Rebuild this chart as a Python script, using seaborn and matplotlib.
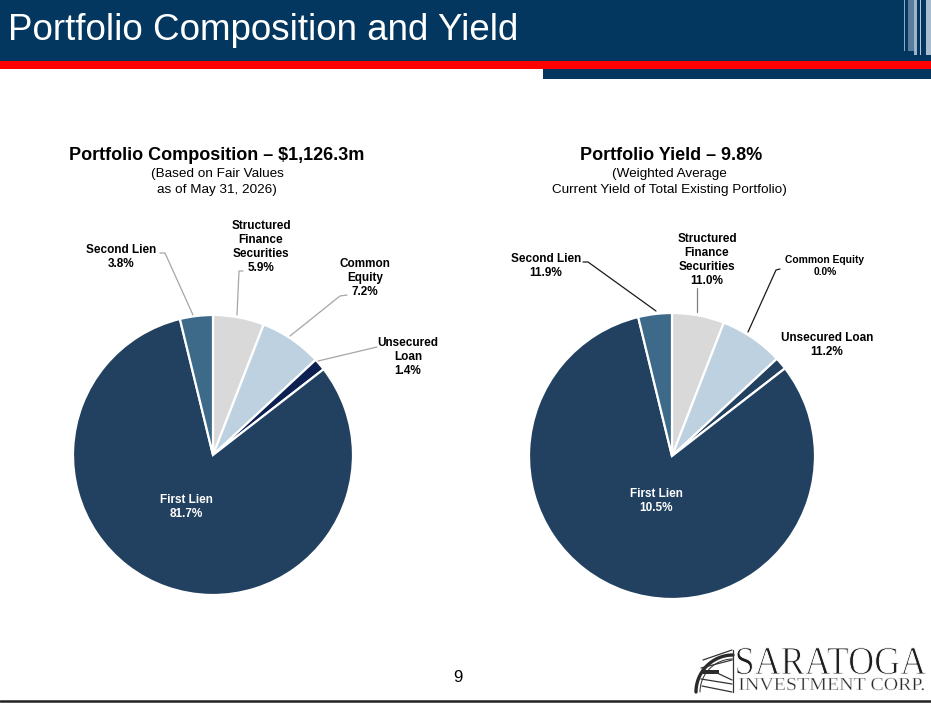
import numpy as np
import matplotlib
matplotlib.use("Agg")
import matplotlib.pyplot as plt
import seaborn as sns
from matplotlib.patches import Rectangle, PathPatch
from matplotlib.lines import Line2D
from matplotlib.textpath import TextPath
from matplotlib.font_manager import FontProperties
from matplotlib.transforms import Affine2D

# slice order: clockwise from 12 o'clock
categories = ["Structured\nFinance\nSecurities", "Common\nEquity", "Unsecured\nLoan",
              "First Lien", "Second Lien"]
composition = [5.9, 7.2, 1.4, 81.7, 3.8]
yields = [11.0, 0.0, 11.2, 10.5, 11.9]
yield_names = ["Structured\nFinance\nSecurities", "Common Equity", "Unsecured Loan",
               "First Lien", "Second Lien"]

comp_total = "$1,126.3m"
yield_avg = "9.8%"
as_of = "May 31, 2026"

sns.set_theme(style="white")
plt.rcParams['font.family'] = ['Liberation Sans', 'DejaVu Sans']

NAVY = '#04375F'
left_colors = sns.color_palette(['#D9D9D9', '#BDD1E0', '#0C2152', '#22405F', '#3E6A8A'])
right_colors = sns.color_palette(['#D9D9D9', '#BDD1E0', '#22405F', '#22405F', '#3E6A8A'])

W, H = 931, 703
fig = plt.figure(figsize=(W / 100, H / 100), dpi=100)


def pie_axes(cx, cy, r):
    return fig.add_axes([(cx - r) / W, (H - cy - r) / H, 2 * r / W, 2 * r / H])


# Left pie: composition
ax1 = pie_axes(213, 455, 140)
ax1.pie(composition, colors=left_colors, startangle=90, counterclock=False,
        wedgeprops=dict(edgecolor='white', linewidth=1.6))
ax1.set_xlim(-1, 1)
ax1.set_ylim(-1, 1)
ax1.set_aspect('auto')
ax1.axis('off')

# Right pie: same slices, labelled with yields
ax2 = pie_axes(672, 456, 143)
ax2.pie(composition, colors=right_colors, startangle=90, counterclock=False,
        wedgeprops=dict(edgecolor='white', linewidth=1.6))
ax2.set_xlim(-1, 1)
ax2.set_ylim(-1, 1)
ax2.set_aspect('auto')
ax2.axis('off')

# overlay in pixel coordinates for header, labels and leaders
ov = fig.add_axes([0, 0, 1, 1])
ov.set_xlim(0, W)
ov.set_ylim(H, 0)
ov.patch.set_alpha(0)
ov.axis('off')

# header band
ov.add_patch(Rectangle((0, 0), W, 61, color=NAVY, lw=0))
ov.add_patch(Rectangle((0, 61), W, 8, color='#FF0000', lw=0))
ov.add_patch(Rectangle((543, 69), W - 543, 10, color=NAVY, lw=0))
for x0, w, h, c in [(904, 1, 51, '#8FA9C2'), (908, 6, 51, '#5C7C9B'), (914, 3, 55, '#9DB4CA'),
                    (920, 1, 55, '#B7C8D8'), (926, 5, 55, '#A9BDD0')]:
    ov.add_patch(Rectangle((x0, 0), w, h, color=c, lw=0))
ov.text(8, 40, "Portfolio Composition and Yield", color='white', fontsize=26.5,
        ha='left', va='baseline')

# chart titles
ov.text(217, 156, f"Portfolio Composition \u2013 {comp_total}", fontsize=13,
        fontweight='bold', ha='center', va='center', color='black')
ov.text(217, 182, f"(Based on Fair Values\nas of {as_of})", fontsize=9.7,
        ha='center', va='center', color='black', linespacing=1.35)
ov.text(671, 156, f"Portfolio Yield \u2013 {yield_avg}", fontsize=13,
        fontweight='bold', ha='center', va='center', color='black')
ov.text(669, 182, "(Weighted Average\nCurrent Yield of Total Existing Portfolio)", fontsize=9.7,
        ha='center', va='center', color='black', linespacing=1.35)

# left labels
left_pos = [(261, 247), (365, 278), (408, 357), (186, 507), (121, 257)]
for name, val, (x, y) in zip(categories, composition, left_pos):
    col = 'white' if name == "First Lien" else 'black'
    ov.text(x, y, f"{name}\n{val:.1f}%", fontsize=8.5, fontweight='bold', color=col,
            ha='center', va='center', linespacing=1.22)

left_leaders = [
    [(243, 271), (239, 271), (237, 315)],
    [(347, 295), (340, 296), (290, 336)],
    [(377, 347), (318, 361)],
    None,
    [(160, 253), (165, 253), (193, 315)],
]
for pts in left_leaders:
    if pts:
        xs, ys = zip(*pts)
        ov.add_line(Line2D(xs, ys, color='#A6A6A6', lw=0.9))

# right labels
right_pos = [(707, 260), (825, 266), (827, 345), (656, 501), (546, 266)]
right_size = [8.5, 7.4, 8.5, 8.5, 8.5]
for name, val, (x, y), fs in zip(yield_names, yields, right_pos, right_size):
    col = 'white' if name == "First Lien" else 'black'
    ov.text(x, y, f"{name}\n{val:.1f}%", fontsize=fs, fontweight='bold', color=col,
            ha='center', va='center', linespacing=1.22)

right_leaders = [
    ([(697, 288), (697, 312)], '#7F7F7F'),
    ([(780, 269), (776, 270), (748, 332)], '#1A1A1A'),
    ([(583, 262), (588, 262), (656, 311)], '#1A1A1A'),
]
for pts, c in right_leaders:
    xs, ys = zip(*pts)
    ov.add_line(Line2D(xs, ys, color=c, lw=0.9))

# page number
ov.text(458, 678, "9", fontsize=12, ha='center', va='center', color='black')


# logo: condensed serif lettering fitted into its box, thinned with a white outline
def fitted_text(s, x0, x1, base, cap, family, color, thin):
    prop = FontProperties(family=family)
    tp = TextPath((0, 0), s, size=1, prop=prop)
    ext = tp.get_extents()
    cap_ref = TextPath((0, 0), "H", size=1, prop=prop).get_extents().height
    sx = (x1 - x0) / ext.width
    sy = cap / cap_ref
    tr = Affine2D().translate(-ext.x0, 0).scale(sx, -sy).translate(x0, base)
    path = tr.transform_path(tp)
    ov.add_patch(PathPatch(path, facecolor=color, edgecolor='white', lw=thin))


fitted_text("SARATOGA", 737, 926, 674, 26, 'Liberation Serif', '#1E1E1E', 0.7)
fitted_text("INVESTMENT CORP.", 739, 924, 690, 12, 'Liberation Serif', '#2A2A2A', 0.3)

t = np.linspace(np.pi / 2, np.pi, 40)
for r, lw in [(37, 2.4), (33, 0.7)]:
    ov.add_line(Line2D(733 + r * np.cos(t), 692 - r * np.sin(t), color='#2A2A2A', lw=lw))
for pts in [[(703, 660), (732, 650)], [(701, 668), (732, 660)], [(701, 679), (732, 684)],
            [(702, 686), (732, 692)], [(715, 672), (732, 680)], [(733, 650), (733, 692)]]:
    xs, ys = zip(*pts)
    ov.add_line(Line2D(xs, ys, color='#333333', lw=0.9))
ov.add_patch(Rectangle((702, 670), 17, 4, color='#2A2A2A', lw=0))

# bottom rule
ov.add_line(Line2D([0, W], [700.5, 700.5], color='#222222', lw=1.8))

fig.savefig("out.png", dpi=100)
